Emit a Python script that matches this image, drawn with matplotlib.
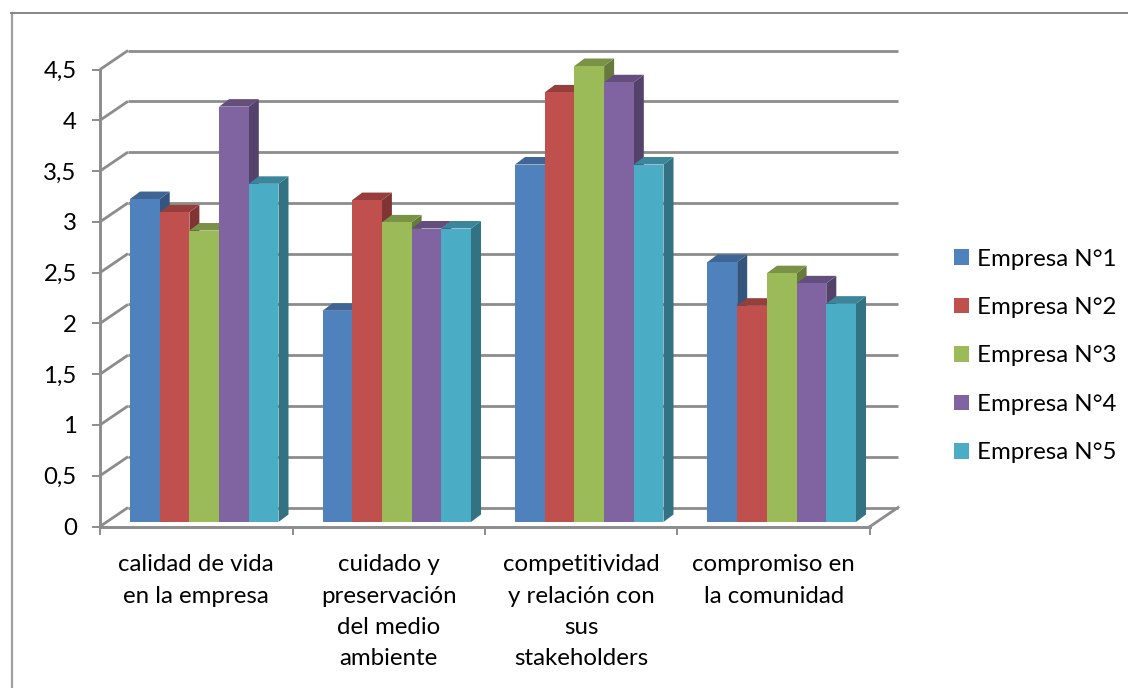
import matplotlib
matplotlib.use("Agg")
import matplotlib.pyplot as plt
from matplotlib.lines import Line2D
from matplotlib.patches import Patch, Polygon
from matplotlib.colors import to_rgb

plt.rcParams['font.family'] = ['Lato', 'DejaVu Sans']

# === DATA ===
categories = ["calidad de vida\nen la empresa", "cuidado y\npreservación\ndel medio\nambiente",
              "competitividad\ny relación con\nsus\nstakeholders", "compromiso en\nla comunidad"]
series_names = ["Empresa N°1", "Empresa N°2", "Empresa N°3", "Empresa N°4", "Empresa N°5"]
empresa_1 = [3.18, 2.08, 3.52, 2.56]
empresa_2 = [3.05, 3.17, 4.23, 2.13]
empresa_3 = [2.87, 2.95, 4.49, 2.45]
empresa_4 = [4.09, 2.89, 4.33, 2.35]
empresa_5 = [3.33, 2.89, 3.52, 2.15]
series_values = [empresa_1, empresa_2, empresa_3, empresa_4, empresa_5]
y_ticks = [0, 0.5, 1, 1.5, 2, 2.5, 3, 3.5, 4, 4.5]
y_labels = ["0", "0,5", "1", "1,5", "2", "2,5", "3", "3,5", "4", "4,5"]

# === STYLE ===
W, H = 1128, 688
COLORS = ['#4F81BD', '#C0504D', '#9BBB59', '#8064A2', '#4BACC6']
GRID = '#8C8C8C'
FONT = 17.3

# pixel size of the front plane of the plot box
LEFT, RIGHT, BOTTOM, TOP = 100, 870, 526.5, 69.5
PX_X = (RIGHT - LEFT) / 4
PX_Y = (BOTTOM - TOP) / 4.5

# depth offsets, pixels turned into data units
WALL_DX, WALL_DY = 28 / PX_X, 19 / PX_Y
BAR_DX, BAR_DY = 10 / PX_X, 7.5 / PX_Y
BAR_START = 30 / PX_X
BAR_W = 29.7 / PX_X
BAR_LIFT = 4.5 / PX_Y


def shade(color, k):
    return tuple(c * k for c in to_rgb(color))


def draw_bar(ax, x, v, color, z):
    b = BAR_LIFT
    t = v + BAR_LIFT
    r = x + BAR_W
    side = [(r, b), (r + BAR_DX, b + BAR_DY), (r + BAR_DX, t + BAR_DY), (r, t)]
    top = [(x, t), (x + BAR_DX, t + BAR_DY), (r + BAR_DX, t + BAR_DY), (r, t)]
    front = [(x, b), (r, b), (r, t), (x, t)]
    ax.add_patch(Polygon(side, fc=shade(color, 0.66), ec='none', zorder=z, clip_on=False))
    ax.add_patch(Polygon(top, fc=shade(color, 0.78), ec='none', zorder=z, clip_on=False))
    ax.add_patch(Polygon(front, fc=color, ec='none', zorder=z + 0.1, clip_on=False))


fig = plt.figure(figsize=(W / 100, H / 100), dpi=100, facecolor='white')
ax = fig.add_axes([LEFT / W, 1 - BOTTOM / H, (RIGHT - LEFT) / W, (BOTTOM - TOP) / H])
ax.set_xlim(0, 4)
ax.set_ylim(0, 4.5)
ax.patch.set_visible(False)

# back wall gridlines and their diagonals to the y axis
for t in y_ticks:
    ax.plot([WALL_DX, 4 + WALL_DX], [t + WALL_DY, t + WALL_DY], color=GRID, lw=2,
            solid_capstyle='butt', clip_on=False, zorder=1)
    ax.plot([0, WALL_DX], [t, t + WALL_DY], color=GRID, lw=2,
            solid_capstyle='butt', clip_on=False, zorder=1)
# right edge of the floor
ax.plot([4, 4 + WALL_DX], [0, WALL_DY], color=GRID, lw=2, clip_on=False, zorder=1)

# bars, left to right so each one covers the side of the previous
for i in range(len(categories)):
    for j, values in enumerate(series_values):
        draw_bar(ax, i + BAR_START + j * BAR_W, values[i], COLORS[j], 3 + j)

# axes
for s in ['top', 'right']:
    ax.spines[s].set_visible(False)
for s in ['left', 'bottom']:
    ax.spines[s].set_color(GRID)
    ax.spines[s].set_linewidth(2.1)
    ax.spines[s].set_zorder(2)
ax.set_yticks(y_ticks)
ax.set_yticklabels(y_labels, fontsize=FONT, color='black')
ax.tick_params(axis='y', length=5.8, width=1.4, color=GRID, pad=11)
ax.set_xticks(range(5))
ax.set_xticklabels([])
ax.tick_params(axis='x', length=6, width=1.4, color=GRID)
ax.set_xticks([i + 0.5 for i in range(4)], minor=True)
ax.set_xticklabels(categories, minor=True, fontsize=FONT, color='black', linespacing=1.61, va='top')
ax.tick_params(axis='x', which='minor', length=0, pad=20)

# legend
handles = [Patch(fc=c, ec='none') for c in COLORS]
fig.legend(handles, series_names, loc='center left', bbox_to_anchor=(954 / W, 1 - 356 / H),
           frameon=False, fontsize=FONT, handlelength=0.62, handleheight=0.62, handletextpad=0.33,
           labelspacing=1.14, borderpad=0, borderaxespad=0)

# chart frame: only top and left show in the crop
fig.add_artist(Line2D([11.5 / W, 11.5 / W], [0, 1 - 13 / H], color='#A0A0A0', lw=1.6))
fig.add_artist(Line2D([11 / W, 1], [1 - 13 / H, 1 - 13 / H], color='#868686', lw=1.4))

fig.savefig("out.png", dpi=100)
